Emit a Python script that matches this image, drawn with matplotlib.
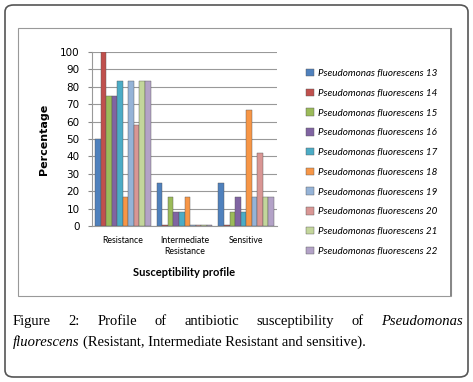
import numpy as np
import matplotlib.pyplot as plt
from matplotlib.patches import FancyBboxPatch, Rectangle

categories = ['Resistance', 'Intermediate\nResistance', 'Sensitive']
strains = ['Pseudomonas fluorescens %d' % n for n in range(13, 23)]
resistance = [50, 100, 75, 75, 83.3, 16.7, 83.3, 58.3, 83.3, 83.3]
intermediate = [25, 0, 16.7, 8.3, 8.3, 16.7, 0, 0, 0, 0]
sensitive = [25, 0, 8.3, 16.7, 8.3, 66.7, 16.7, 41.7, 16.7, 16.7]
colors = ['#4F81BD', '#C0504D', '#9BBB59', '#8064A2', '#4BACC6',
          '#F79646', '#95B3D7', '#D99694', '#C3D69B', '#B3A2C7']

values = np.array([resistance, intermediate, sensitive]).T  # strain x category

W, H = 473, 382
fig = plt.figure(figsize=(W / 100, H / 100), dpi=100)

def fx(px): return px / W
def fy(py): return 1 - py / H

# outer rounded frame and inner chart frame
fig.patches.append(FancyBboxPatch((fx(5), fy(377)), fx(463), (372) / H,
                                  boxstyle='round,pad=0,rounding_size=0.018',
                                  transform=fig.transFigure, fill=False,
                                  edgecolor='#555555', lw=1.2))
fig.patches.append(Rectangle((fx(18), fy(296)), fx(433), 268 / H,
                             transform=fig.transFigure, fill=False,
                             edgecolor='#999999', lw=0.8))
fig.patches.append(Rectangle((fx(450), fy(296)), fx(2), 268 / H,
                             transform=fig.transFigure, color='#888888', lw=0))

ax = fig.add_axes([fx(92), fy(226), fx(185), (226 - 52) / H])
x = np.arange(len(categories))
bw = 0.09
for i, (name, col) in enumerate(zip(strains, colors)):
    off = (i - 4.5) * bw
    ax.bar(x + off, np.maximum(values[i], 0.4), bw, color=col,
           edgecolor='#555555', linewidth=0.3, label=name, zorder=3)

ax.set_xlim(-0.5, 2.5)
ax.set_ylim(0, 100)
ax.set_yticks(range(0, 101, 10))
ax.tick_params(axis='y', labelsize=7.5, length=3, color='#888888', pad=6)
ax.set_xticks(x)
ax.set_xticklabels(categories, fontsize=6.3, family='Lato', linespacing=1.3)
ax.tick_params(axis='x', length=0, pad=7)
ax.grid(axis='y', color='#999999', lw=0.8, zorder=0)
for s in ['top', 'right']:
    ax.spines[s].set_visible(False)
ax.spines['left'].set_color('#999999')
ax.spines['bottom'].set_color('#999999')
ax.set_ylabel('Percentage', fontsize=8, fontweight='bold', labelpad=8)
ax.set_xlabel('Susceptibility profile', fontsize=8, fontweight='bold',
              family='Lato', labelpad=8)

handles, labels = ax.get_legend_handles_labels()
leg = fig.legend(handles, labels, loc='upper left',
                 bbox_to_anchor=(fx(297), fy(60)), frameon=False,
                 prop={'family': 'Lato', 'style': 'italic', 'size': 7.1},
                 handlelength=0.8, handleheight=0.8, handletextpad=0.4,
                 labelspacing=1.07)

# justified caption
fig.canvas.draw()
r = fig.canvas.get_renderer()
cap_font = dict(family='Liberation Serif', fontsize=10.5, va='baseline')
words = [('Figure', 'normal'), ('2:', 'normal'), ('Profile', 'normal'),
         ('of', 'normal'), ('antibiotic', 'normal'), ('susceptibility', 'normal'),
         ('of', 'normal'), ('Pseudomonas', 'italic')]
left, right = 13, 463
texts = [fig.text(0, fy(325), w, style=st, **cap_font) for w, st in words]
widths = [t.get_window_extent(r).width for t in texts]
gap = (right - left - sum(widths)) / (len(words) - 1)
pos = left
for t, w in zip(texts, widths):
    t.set_x(fx(pos))
    pos += w + gap
t1 = fig.text(fx(left), fy(346), 'fluorescens', style='italic', **cap_font)
w1 = t1.get_window_extent(r).width
fig.text(fx(left + w1 + 3), fy(346),
         '(Resistant, Intermediate Resistant and sensitive).', **cap_font)

fig.savefig('out.png', dpi=100)
